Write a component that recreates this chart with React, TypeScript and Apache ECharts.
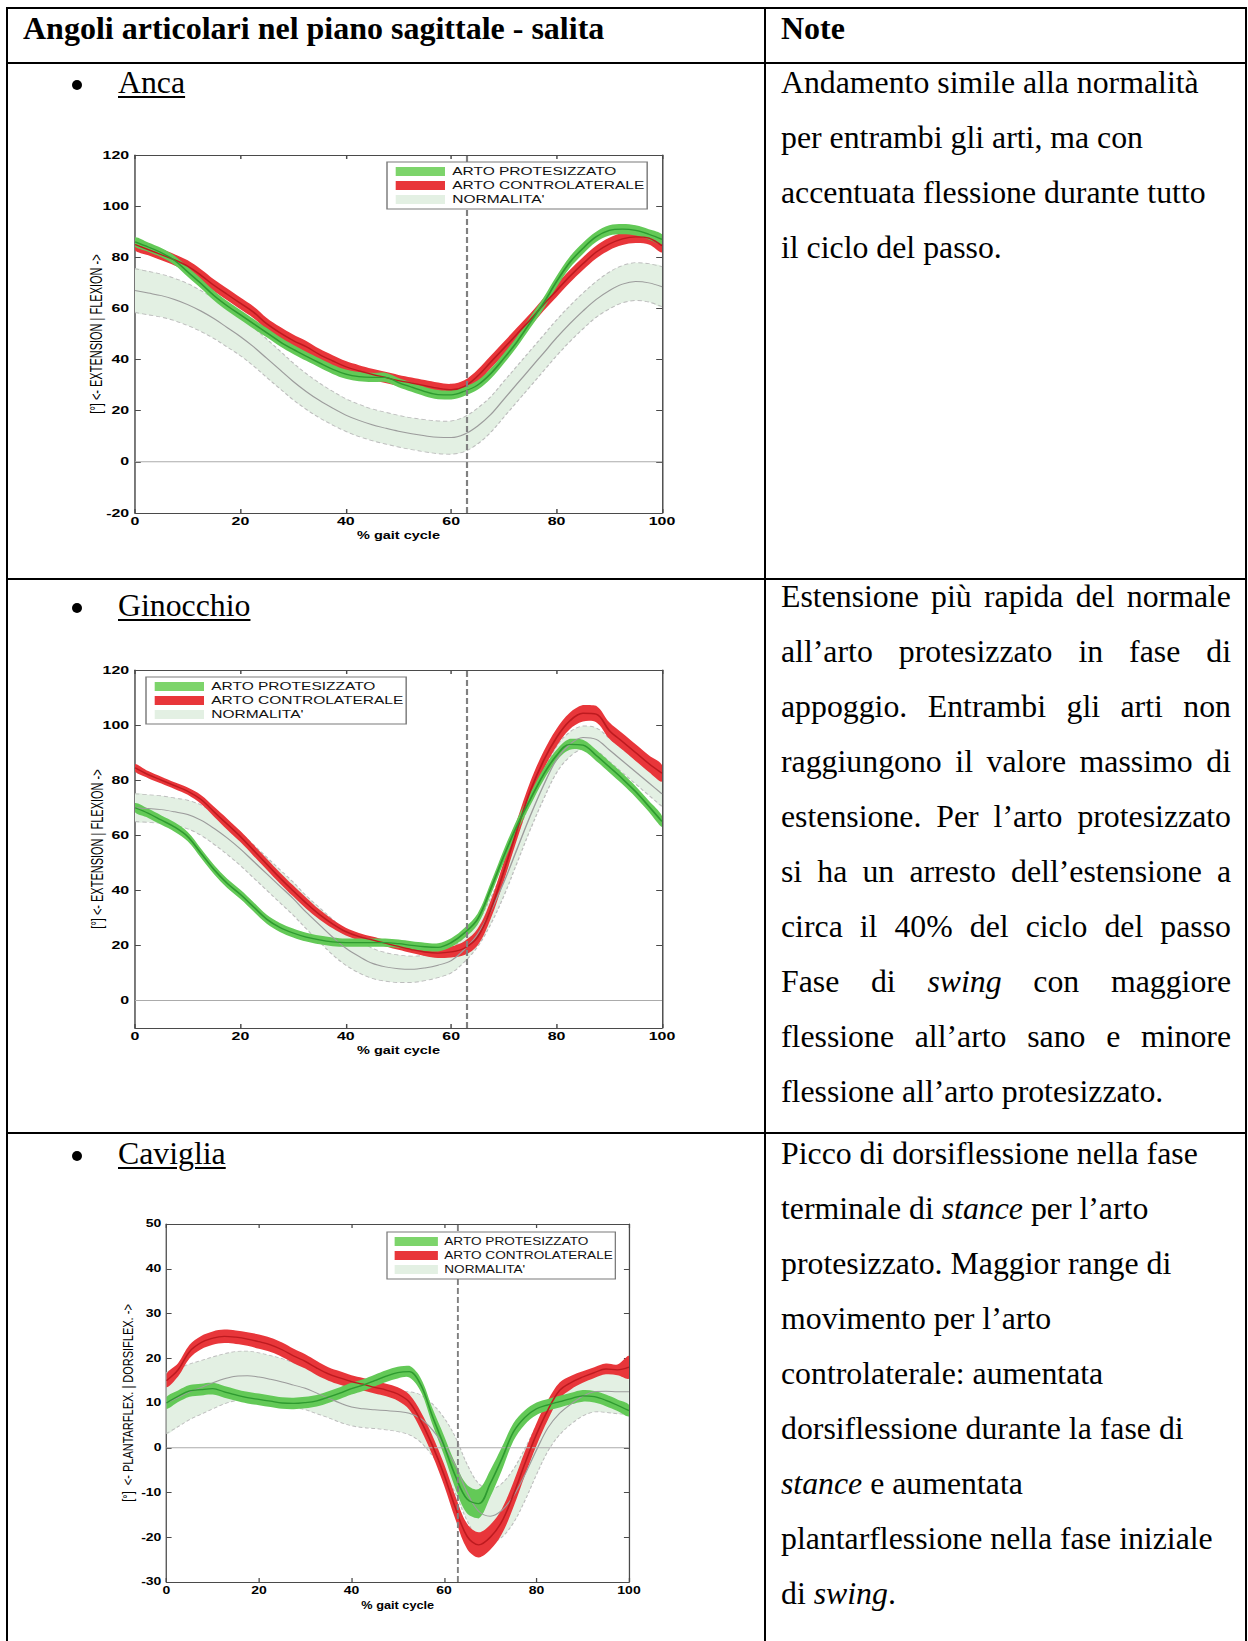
import React, { useEffect, useRef } from "react";
import * as echarts from "echarts";

// ---------------- DATA ----------------
const GAIT_PCT = [0, 2.5, 5, 7.5, 10, 12.5, 15, 17.5, 20, 22.5, 25, 27.5, 30, 32.5, 35, 37.5, 40, 42.5, 45, 47.5, 50, 52.5, 55, 57.5, 60, 62.5, 65, 67.5, 70, 72.5, 75, 77.5, 80, 82.5, 85, 87.5, 90, 92.5, 95, 97.5, 100];
const TOE_OFF_PCT = 63;
const X_TICKS = [0, 20, 40, 60, 80, 100];
const KNEE_Y_TICKS = [0, 20, 40, 60, 80, 100, 120];

const LEGEND_NAMES = ["ARTO PROTESIZZATO", "ARTO CONTROLATERALE", "NORMALITA'"];

// Anca (hip)
const HIP_PROST_MEAN = [86, 84, 81.8, 78.8, 74.3, 69.8, 65, 61, 57.5, 54, 50.5, 47, 44, 41.3, 38.7, 36.2, 34.3, 33.3, 33, 33, 31, 29.2, 27.5, 26.3, 26.2, 27.6, 30, 34.5, 40.5, 47, 54.5, 62, 70.5, 78, 83.5, 88, 90.5, 91, 90.5, 89, 87];
const HIP_PROST_SD = [1.8, 1.8, 1.8, 1.8, 1.9, 1.9, 1.9, 1.9, 1.9, 1.9, 1.8, 1.8, 1.8, 1.8, 1.8, 1.8, 1.8, 1.8, 1.8, 1.8, 1.8, 1.8, 1.8, 1.8, 1.8, 1.8, 1.8, 2, 2, 2, 2.2, 2.2, 2.2, 2.2, 2.2, 2, 2, 2, 2, 2, 2];
const HIP_CONTRA_MEAN = [85, 83, 81, 79, 76.5, 73, 69, 65.5, 62, 58.5, 54, 50.5, 47.5, 45, 42, 39.5, 37.2, 35.6, 34.2, 33, 31.8, 30.8, 29.8, 28.8, 28.2, 29.5, 33.5, 39, 44.5, 50, 55.5, 61.5, 67, 72.5, 77.5, 82, 85.2, 87.2, 88, 87.5, 84.5];
const HIP_CONTRA_SD = [2.2, 2.2, 2.2, 2.2, 2.3, 2.3, 2.3, 2.3, 2.3, 2.3, 2.3, 2.3, 2.3, 2.3, 2.2, 2.2, 2.2, 2.2, 2.2, 2.2, 2.2, 2.2, 2.2, 2.2, 2.3, 2.4, 2.5, 2.5, 2.5, 2.5, 2.5, 2.5, 2.5, 2.5, 2.5, 2.5, 2.4, 2.4, 2.4, 2.5, 2.6];
const HIP_NORM_MEAN = [67, 66, 65, 63.5, 61.5, 59, 56, 52.5, 49, 45, 40.5, 36, 31.5, 27.5, 24, 21, 18.3, 16.2, 14.5, 13.2, 12, 11, 10.2, 9.6, 9.5, 10.8, 14, 18.5, 24.5, 30.5, 36.5, 42.5, 48.5, 54, 59, 63.5, 67, 69.5, 70.5, 70, 68.5];
const HIP_NORM_SD = [8.5, 8.5, 8.4, 8.3, 8.2, 8, 7.8, 7.6, 7.5, 7.5, 7.5, 7.4, 7.2, 7, 6.8, 6.6, 6.4, 6.3, 6.2, 6.2, 6.2, 6.2, 6.3, 6.4, 6.5, 6.8, 7, 7, 7, 7, 7, 7, 7, 7, 7, 7, 7.2, 7.3, 7.4, 7.5, 7.8];

// Ginocchio (knee)
const KNEE_PROST_MEAN = [70, 68, 65.5, 63, 59.5, 53.5, 47.5, 42.5, 38.5, 34, 29.5, 26.5, 24.5, 23, 22, 21.3, 21, 21, 21, 21, 20.6, 20, 19.5, 19.3, 21, 24.5, 29.5, 40.5, 52.5, 63.5, 73, 82, 89, 93, 92.7, 89, 84.8, 80.5, 75.8, 70.5, 65];
const KNEE_PROST_SD = [1.7, 1.7, 1.7, 1.7, 1.7, 1.7, 1.7, 1.7, 1.7, 1.7, 1.6, 1.6, 1.6, 1.6, 1.6, 1.6, 1.5, 1.5, 1.5, 1.5, 1.5, 1.5, 1.5, 1.5, 1.6, 1.8, 2, 2.2, 2.3, 2.3, 2.2, 2.1, 2, 2, 2, 2, 2, 2, 2, 2, 2];
const KNEE_CONTRA_MEAN = [84.5, 82, 80, 78, 76, 73, 68.5, 64, 59.5, 54.5, 49.5, 44.5, 39.8, 35.3, 31.2, 27.8, 25, 23.2, 22, 20.8, 19.6, 18.5, 17.6, 17.2, 17.6, 19, 23, 33, 47, 62, 76, 87, 95.5, 101.5, 104.3, 104, 98, 94, 90, 86, 82.5];
const KNEE_CONTRA_SD = [1.4, 1.3, 1.2, 1.2, 1.3, 1.6, 1.8, 2, 2, 2, 2, 2, 2, 2, 1.8, 1.6, 1.4, 1.3, 1.2, 1.2, 1.2, 1.3, 1.5, 1.8, 2, 2.5, 3, 3.3, 3.5, 3.5, 3.4, 3.3, 3.2, 3, 3, 3, 3, 3, 3, 3, 3];
const KNEE_NORM_MEAN = [70, 69.7, 69.3, 68.5, 67.5, 65.5, 62.5, 59, 55, 50.5, 46, 41.5, 37, 32, 27.5, 23, 19, 16, 13.5, 12.2, 11.5, 11.3, 11.8, 12.8, 14.5, 18.5, 24, 32.5, 43, 55, 67, 78, 87.5, 93, 95.5, 94.8, 91, 87, 83, 79, 75];
const KNEE_NORM_SD = [5, 5, 5, 5, 5.2, 5.5, 5.8, 6, 6, 6, 6, 6, 6, 6, 6.2, 6.4, 6.2, 6, 5.5, 5.2, 5, 4.8, 4.6, 4.5, 4.5, 4.5, 4.5, 4.8, 5, 5, 5, 5, 4.8, 4.5, 4.2, 4.2, 4.2, 4.3, 4.4, 4.5, 4.5];

// Caviglia (ankle)
const ANKLE_PROST_MEAN = [10, 11.5, 12.7, 13, 13.2, 12.5, 11.8, 11.2, 10.8, 10.4, 10, 9.9, 10.1, 10.5, 11.3, 12.2, 13.2, 14, 15, 16, 16.8, 17, 14, 7, 0.5, -6.4, -11.5, -12.5, -8, -2.5, 3.5, 6.8, 8.7, 9.6, 10.3, 11, 11.6, 11.4, 10.6, 9.5, 8.3];
const ANKLE_PROST_SD = [1.3, 1.3, 1.3, 1.3, 1.3, 1.3, 1.3, 1.3, 1.3, 1.3, 1.3, 1.3, 1.3, 1.3, 1.3, 1.3, 1.3, 1.3, 1.3, 1.3, 1.3, 1.3, 1.5, 1.8, 2.2, 2.8, 3.2, 3.3, 3, 2.6, 2, 1.6, 1.4, 1.3, 1.3, 1.3, 1.3, 1.3, 1.3, 1.3, 1.3];
const ANKLE_CONTRA_MEAN = [15, 17.4, 21.5, 23.5, 24.5, 24.9, 24.7, 24.3, 23.7, 23, 21.9, 20.5, 19.3, 17.8, 16.5, 15.6, 14.8, 14.2, 13.5, 12.9, 12, 10.2, 6, 0.5, -6, -13.5, -19.8, -21.7, -20, -16.5, -10.5, -3.5, 3, 8.5, 12.8, 14.6, 15.8, 16.8, 17.6, 17.4, 18];
const ANKLE_CONTRA_SD = [1.5, 1.5, 1.5, 1.5, 1.5, 1.5, 1.5, 1.5, 1.6, 1.6, 1.6, 1.6, 1.6, 1.6, 1.5, 1.5, 1.4, 1.4, 1.4, 1.4, 1.5, 1.7, 2, 2.2, 2.4, 2.6, 2.8, 2.8, 2.8, 2.8, 2.8, 2.7, 2.5, 2.2, 1.8, 1.5, 1.3, 1.2, 1.2, 1.2, 2.5];
const ANKLE_NORM_MEAN = [10, 11.2, 12.5, 13.5, 14.5, 15.4, 16, 16.1, 15.8, 15.3, 14.7, 14, 13.3, 12.2, 11.1, 10, 9.1, 8.7, 8.5, 8.3, 8.1, 7.7, 6.5, 4, 0.5, -4, -10, -14.2, -15.3, -14, -10.8, -6, -0.5, 4.5, 7.7, 9.8, 11.5, 12.5, 12.6, 12.5, 12.5];
const ANKLE_NORM_SD = [6.8, 6.5, 6.2, 6, 5.8, 5.6, 5.5, 5.5, 5.4, 5.3, 5.2, 5, 4.8, 4.6, 4.4, 4.3, 4.2, 4.2, 4.2, 4.3, 4.5, 4.8, 5.3, 5.8, 6.2, 6.3, 6.3, 6.2, 6, 6, 6, 5.8, 5.5, 5.2, 4.8, 4.5, 4.4, 4.5, 4.7, 4.9, 5];

// Texts
const HEADER_LEFT = "Angoli articolari nel piano sagittale - salita";
const HEADER_RIGHT = "Note";
const ROW_LABELS = ["Anca", "Ginocchio", "Caviglia"];
const NOTE_HIP = ["Andamento simile alla normalità", "per entrambi gli arti, ma con", "accentuata flessione durante tutto", "il ciclo del passo."];
const NOTE_KNEE = [
  "Estensione più rapida del normale",
  "all’arto protesizzato in fase di",
  "appoggio. Entrambi gli arti non",
  "raggiungono il valore massimo di",
  "estensione. Per l’arto protesizzato",
  "si ha un arresto dell’estensione a",
  "circa il 40% del ciclo del passo",
  "Fase di *swing* con maggiore",
  "flessione all’arto sano e minore",
  "flessione all’arto protesizzato.",
];
const NOTE_ANKLE = [
  "Picco di dorsiflessione nella fase",
  "terminale di *stance* per l’arto",
  "protesizzato. Maggior range di",
  "movimento per l’arto",
  "controlaterale: aumentata",
  "dorsiflessione durante la fase di",
  "*stance* e aumentata",
  "plantarflessione nella fase iniziale",
  "di *swing*.",
];

// ---------------- STYLE ----------------
const SERIF = '"Liberation Serif", "Times New Roman", Times, serif';
const SANS = '"Liberation Sans", Arial, Helvetica, sans-serif';
const BODY_FS = 31.8;
const LINE_H = 55;
const BASE_OFF = (LINE_H - 1.107 * BODY_FS) / 2 + 0.891 * BODY_FS;
const SMOOTH = 0.35;

const COL = {
  prostFill: "#63c957",
  prostLine: "#2e9a30",
  prostSwatch: "#7dd46b",
  contraFill: "#e8363a",
  contraLine: "#bd1a1f",
  normFill: "#e3f0e3",
  normLine: "#9c9c9c",
  normEdge: "#bdbdbd",
  axis: "#4a4a4a",
};

const S12 = 1.45; // horizontal stretch of the hip / knee figures
const S3 = 1.45 * (462.5 / 527); // ankle figure

const CHARTS = [
  {
    key: "hip",
    prost: HIP_PROST_MEAN, prostSd: HIP_PROST_SD,
    contra: HIP_CONTRA_MEAN, contraSd: HIP_CONTRA_SD,
    norm: HIP_NORM_MEAN, normSd: HIP_NORM_SD,
    yMin: -20, yMax: 120, yInterval: 20, yTicks: null as number[] | null,
    yName: "[°] <- EXTENSION | FLEXION ->",
    sx: S12, div: { x: 40, y: 140, w: 640, h: 420 },
    plot: { x0: 135, y0: 155, x1: 662, y1: 513 },
    legend: { x: 387, y: 162 }, yNameGap: 21,
  },
  {
    key: "knee",
    prost: KNEE_PROST_MEAN, prostSd: KNEE_PROST_SD,
    contra: KNEE_CONTRA_MEAN, contraSd: KNEE_CONTRA_SD,
    norm: KNEE_NORM_MEAN, normSd: KNEE_NORM_SD,
    yMin: -10, yMax: 120, yInterval: 20, yTicks: KNEE_Y_TICKS,
    yName: "[°] <- EXTENSION | FLEXION ->",
    sx: S12, div: { x: 40, y: 655, w: 640, h: 420 },
    plot: { x0: 135, y0: 670, x1: 662, y1: 1028 },
    legend: { x: 146, y: 677 }, yNameGap: 20,
  },
  {
    key: "ankle",
    prost: ANKLE_PROST_MEAN, prostSd: ANKLE_PROST_SD,
    contra: ANKLE_CONTRA_MEAN, contraSd: ANKLE_CONTRA_SD,
    norm: ANKLE_NORM_MEAN, normSd: ANKLE_NORM_SD,
    yMin: -30, yMax: 50, yInterval: 10, yTicks: null as number[] | null,
    yName: "[°]  <- PLANTARFLEX. | DORSIFLEX. ->",
    sx: S3, div: { x: 60, y: 1200, w: 600, h: 441 },
    plot: { x0: 166.5, y0: 1224, x1: 629, y1: 1582 },
    legend: { x: 387, y: 1232 }, yNameGap: 24,
  },
];

// band fill (mean ± sd) drawn as one smoothed polygon through the library's coordinate mapping
function bandFillSeries(legendName: string, mean: number[], sd: number[], fill: string, dashedEdges: boolean) {
  const data = GAIT_PCT.map((x, i) => [x, mean[i] - sd[i], mean[i] + sd[i]]);
  return {
    type: "custom",
    name: legendName,
    silent: true,
    clip: true,
    itemStyle: { color: fill },
    encode: { x: 0, y: [1, 2] },
    data,
    renderItem: (params: any, api: any) => {
      if (params.dataIndex !== 0) return null;
      const upper = data.map((d) => api.coord([d[0], d[2]]));
      const lower = data.map((d) => api.coord([d[0], d[1]]));
      const xs = upper.map((p: number[]) => p[0]);
      const ys = upper.concat(lower).map((p: number[]) => p[1]);
      const constraint = [
        [Math.min(...xs), Math.min(...ys)],
        [Math.max(...xs), Math.max(...ys)],
      ];
      const children: any[] = [
        {
          type: "polygon",
          shape: { points: upper.concat(lower.slice().reverse()), smooth: SMOOTH, smoothConstraint: constraint },
          style: { fill, stroke: null },
        },
      ];
      if (dashedEdges) {
        [upper, lower].forEach((pts) => {
          children.push({
            type: "polyline",
            shape: { points: pts, smooth: SMOOTH, smoothConstraint: constraint },
            style: { fill: null, stroke: COL.normEdge, lineWidth: 0.9, lineDash: [3, 2] },
          });
        });
      }
      return { type: "group", children };
    },
  };
}

function meanLineSeries(id: string, mean: number[], color: string, width: number) {
  return {
    type: "line",
    name: id,
    symbol: "none",
    smooth: SMOOTH,
    silent: true,
    data: GAIT_PCT.map((x, i) => [x, mean[i]]),
    lineStyle: { color, width },
    itemStyle: { color },
  };
}

function buildOption(c: any) {
  const gridLeft = (c.plot.x0 - c.div.x) / c.sx;
  const gridW = (c.plot.x1 - c.plot.x0) / c.sx;
  const gridTop = c.plot.y0 - c.div.y;
  const gridH = c.plot.y1 - c.plot.y0;
  const axisLine = { show: true, onZero: false, lineStyle: { color: COL.axis, width: 1 } };
  const tickBase = { show: true, inside: true, length: 4, lineStyle: { color: COL.axis, width: 1 } };
  const labelStyle = { color: "#000", fontFamily: SANS, fontSize: 11, fontWeight: "bold" };
  const yRange: any = { min: c.yMin, max: c.yMax };
  if (!c.yTicks) yRange.interval = c.yInterval;
  const yTick: any = { ...tickBase };
  const yLabel: any = { show: true, margin: 4, ...labelStyle };
  if (c.yTicks) {
    yTick.customValues = c.yTicks;
    yLabel.customValues = c.yTicks;
  }
  const xBase = { type: "value", min: 0, max: 100, interval: 20, splitLine: { show: false }, axisLine };
  const yBase = { type: "value", ...yRange, splitLine: { show: false }, axisLine };

  const series: any[] = [
    bandFillSeries(LEGEND_NAMES[2], c.norm, c.normSd, COL.normFill, true),
    meanLineSeries(c.key + "-norm-mean", c.norm, COL.normLine, 1),
    {
      type: "line", name: "zero", symbol: "none", silent: true, data: [[0, 0], [100, 0]],
      lineStyle: { color: "#ababab", width: 1 },
    },
    bandFillSeries(LEGEND_NAMES[1], c.contra, c.contraSd, COL.contraFill, false),
    meanLineSeries(c.key + "-contra-mean", c.contra, COL.contraLine, 1.3),
    bandFillSeries(LEGEND_NAMES[0], c.prost, c.prostSd, COL.prostFill, false),
    meanLineSeries(c.key + "-prost-mean", c.prost, COL.prostLine, 1.3),
    {
      type: "line", name: "toe-off", symbol: "none", silent: true,
      data: [[TOE_OFF_PCT, c.yMin], [TOE_OFF_PCT, c.yMax]],
      lineStyle: { color: "#808080", width: 1.5, type: [6, 3] },
    },
  ];

  return {
    animation: false,
    textStyle: { fontFamily: SANS },
    grid: { left: gridLeft, top: gridTop, width: gridW, height: gridH, containLabel: false, outerBoundsMode: "none" },
    legend: {
      orient: "vertical",
      left: (c.legend.x - c.div.x) / c.sx,
      top: c.legend.y - c.div.y,
      itemWidth: 34,
      itemHeight: 9,
      itemGap: 3,
      padding: [4, 2, 4, 6],
      borderColor: "#7a7a7a",
      borderWidth: 1,
      borderRadius: 0,
      backgroundColor: "#ffffff",
      selectedMode: false,
      z: 10,
      textStyle: { color: "#111", fontFamily: SANS, fontSize: 10.7 },
      data: [
        { name: LEGEND_NAMES[0], icon: "rect", itemStyle: { color: COL.prostSwatch, borderWidth: 0 } },
        { name: LEGEND_NAMES[1], icon: "rect", itemStyle: { color: COL.contraFill, borderWidth: 0 } },
        { name: LEGEND_NAMES[2], icon: "rect", itemStyle: { color: COL.normFill, borderWidth: 0 } },
      ],
    },
    xAxis: [
      {
        ...xBase, position: "bottom",
        axisTick: { ...tickBase, customValues: X_TICKS },
        axisLabel: { show: true, margin: 3, ...labelStyle },
        name: "% gait cycle", nameLocation: "middle", nameGap: 18, nameMoveOverlap: false,
        nameTextStyle: { color: "#000", fontFamily: SANS, fontSize: 10, fontWeight: "bold" },
      },
      { ...xBase, position: "top", axisTick: { ...tickBase }, axisLabel: { show: false } },
    ],
    yAxis: [
      {
        ...yBase, position: "left", axisTick: yTick, axisLabel: yLabel,
        name: c.yName, nameLocation: "middle", nameGap: c.yNameGap, nameMoveOverlap: false,
        nameTextStyle: { color: "#000", fontFamily: SANS, fontSize: 11, fontWeight: "normal" },
      },
      { ...yBase, position: "right", axisTick: { ...yTick }, axisLabel: { show: false } },
    ],
    series,
  };
}

function GaitChart({ cfg }: { cfg: any }) {
  const ref = useRef<HTMLDivElement>(null);
  useEffect(() => {
    if (!ref.current) return;
    const chart = echarts.init(ref.current, undefined, { renderer: "svg" });
    chart.setOption(buildOption(cfg) as any);
    return () => chart.dispose();
  }, [cfg]);
  return (
    <div
      ref={ref}
      style={{
        position: "absolute",
        left: cfg.div.x,
        top: cfg.div.y,
        width: cfg.div.w / cfg.sx,
        height: cfg.div.h,
        transform: `scaleX(${cfg.sx})`,
        transformOrigin: "0 0",
      }}
    />
  );
}

function renderSegments(line: string) {
  const parts = line.split("*");
  return parts.map((p, i) => (i % 2 === 1 ? <i key={i}>{p}</i> : <React.Fragment key={i}>{p}</React.Fragment>));
}

function NoteBlock({ lines, baseline, justify }: { lines: string[]; baseline: number; justify: boolean }) {
  return (
    <div style={{ position: "absolute", left: 781, top: baseline - BASE_OFF, width: 450, fontSize: BODY_FS, lineHeight: `${LINE_H}px` }}>
      {lines.map((l, i) => {
        const just = justify && i < lines.length - 1;
        return (
          <div key={i} style={{ textAlign: just ? "justify" : "left", textAlignLast: just ? "justify" : "left", whiteSpace: just ? "normal" : "nowrap" } as any}>
            {renderSegments(l)}
          </div>
        );
      })}
    </div>
  );
}

function RowLabel({ text, baseline }: { text: string; baseline: number }) {
  return (
    <>
      <div style={{ position: "absolute", left: 72, top: baseline - 13.3, width: 10, height: 10, borderRadius: 5, background: "#000" }} />
      <div
        style={{
          position: "absolute", left: 118, top: baseline - BASE_OFF, fontSize: BODY_FS, lineHeight: `${LINE_H}px`, whiteSpace: "nowrap",
          textDecoration: "underline", textDecorationThickness: "2px", textUnderlineOffset: "3px",
        } as any}
      >
        {text}
      </div>
    </>
  );
}

const H_RULES = [8, 63, 579, 1133];
const V_RULES = [7, 765, 1246];

export default function App() {
  const labelBase = [93.3, 616, 1164];
  const noteBase = [93.3, 607, 1164];
  return (
    <div style={{ position: "absolute", left: 0, top: 0, width: 1248, height: 1641, background: "#fff", overflow: "hidden", fontFamily: SERIF, color: "#000" }}>
      {H_RULES.map((y) => (
        <div key={"h" + y} style={{ position: "absolute", left: 6, top: y - 1, width: 1241, height: 2, background: "#000" }} />
      ))}
      {V_RULES.map((x) => (
        <div key={"v" + x} style={{ position: "absolute", left: x - 1, top: 7, width: 2, height: 1641, background: "#000" }} />
      ))}
      <div style={{ position: "absolute", left: 23, top: 39.5 - BASE_OFF, fontSize: 32, fontWeight: "bold", lineHeight: `${LINE_H}px`, whiteSpace: "nowrap" }}>{HEADER_LEFT}</div>
      <div style={{ position: "absolute", left: 781, top: 39.5 - BASE_OFF, fontSize: 32, fontWeight: "bold", lineHeight: `${LINE_H}px`, whiteSpace: "nowrap" }}>{HEADER_RIGHT}</div>

      {ROW_LABELS.map((t, i) => (
        <RowLabel key={t} text={t} baseline={labelBase[i]} />
      ))}
      <NoteBlock lines={NOTE_HIP} baseline={noteBase[0]} justify={false} />
      <NoteBlock lines={NOTE_KNEE} baseline={noteBase[1]} justify={true} />
      <NoteBlock lines={NOTE_ANKLE} baseline={noteBase[2]} justify={false} />

      {CHARTS.map((c) => (
        <GaitChart key={c.key} cfg={c} />
      ))}
    </div>
  );
}
